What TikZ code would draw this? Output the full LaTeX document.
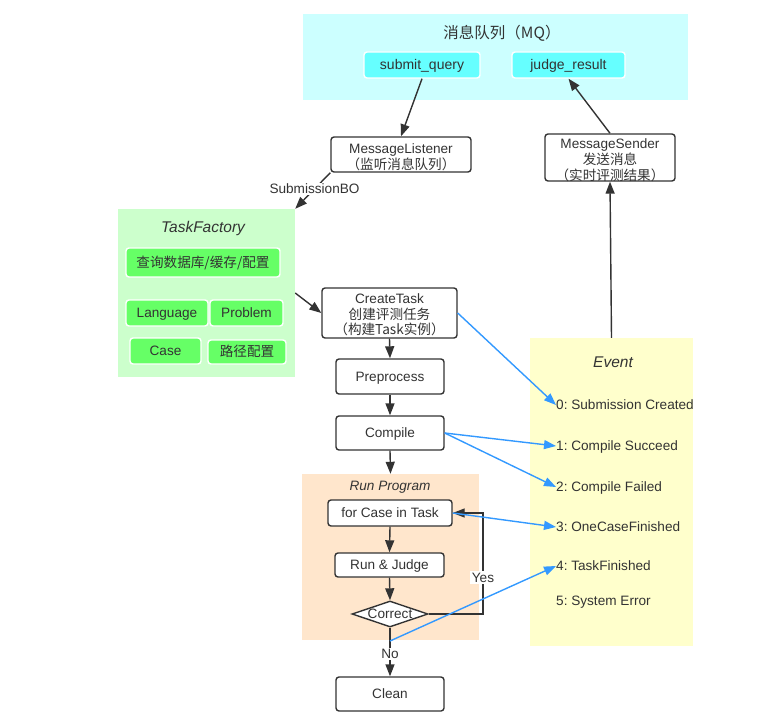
\documentclass[tikz,border=0pt]{standalone}
\usepackage{fontspec}
\setmainfont{Liberation Sans}
\newfontfamily\cjk{Noto Sans CJK SC}
\usetikzlibrary{arrows.meta,shapes.geometric}
\definecolor{txt}{HTML}{333333}
\definecolor{mqbg}{HTML}{CCFFFF}
\definecolor{mqbox}{HTML}{66FFFF}
\definecolor{tfbg}{HTML}{CCFFCC}
\definecolor{tfbox}{HTML}{66FF66}
\definecolor{rpbg}{HTML}{FFE6CC}
\definecolor{evbg}{HTML}{FFFFCC}
\definecolor{blu}{HTML}{3399FF}
\frenchspacing
\newcommand{\topstrut}{\rule{0pt}{14pt}}
\tikzset{
  area/.style={inner sep=0pt, draw=none},
  box/.style={draw=txt, line width=1.4pt, rounded corners=3pt, fill=white, text=txt, inner sep=0pt,
     text height=9.6pt, text depth=0pt, font=\fontsize{13.6}{16}\selectfont},
  boxm/.style={draw=txt, line width=1.4pt, rounded corners=3pt, fill=white, text=txt, align=center, inner sep=0pt,
     text depth=0pt, font=\fontsize{13.6}{15.8}\selectfont},
  mqb/.style={draw=white, line width=1.4pt, rounded corners=3pt, fill=mqbox, text=txt, inner sep=0pt,
     text height=9.6pt, text depth=0pt, font=\fontsize{14}{16}\selectfont},
  tfb/.style={draw=white, line width=1.4pt, rounded corners=3pt, fill=tfbox, text=txt, inner sep=0pt,
     text height=9.6pt, text depth=0pt, font=\fontsize{13.6}{16}\selectfont},
  ttl/.style={text=txt, font=\fontsize{15.5}{18}\selectfont\itshape},
  evt/.style={text=txt, anchor=west, inner sep=0pt, text height=9.6pt, text depth=0pt, font=\fontsize{13.6}{16}\selectfont},
  lbl/.style={text=txt, fill=white, inner sep=1.5pt, text height=9.6pt, text depth=0pt, font=\fontsize{13.6}{16}\selectfont},
  arr/.style={draw=txt, line width=1.4pt, -{Triangle[length=12pt,width=9pt]}},
  barr/.style={draw=blu, line width=1.4pt, -{Triangle[length=12pt,width=9pt]}},
}
\begin{document}
\begin{tikzpicture}[x=1pt,y=-1pt]
\useasboundingbox (0,0) rectangle (760,719);
% areas
\node[area, fill=mqbg, minimum width=385pt, minimum height=86pt] (mq) at (495.5,57) {};
\node[area, fill=tfbg, minimum width=177pt, minimum height=168pt] (tf) at (206.5,293) {};
\node[area, fill=rpbg, minimum width=177pt, minimum height=166pt] (rp) at (390.5,557) {};
\node[area, fill=evbg, minimum width=163pt, minimum height=308pt] (ev) at (611.5,492) {};
% titles
\node[text=txt, font=\cjk\fontsize{15.5}{18}\selectfont] (mqt) at (502,33) {消息队列（MQ）};
\node[ttl] (tft) at (203,228) {TaskFactory};
\node[ttl, font=\fontsize{13.6}{16}\selectfont\itshape] (rpt) at (390,487) {Run Program};
\node[ttl] (evt) at (613,362) {Event};
% MQ boxes
\node[mqb, minimum width=116pt, minimum height=26pt] (sq) at (422,65) {submit\_query};
\node[mqb, minimum width=113pt, minimum height=26pt] (jr) at (568.5,65) {judge\_result};
% listener / sender
\node[boxm, minimum width=140pt, minimum height=35pt] (ml) at (401,154.5) {\topstrut MessageListener\\{\cjk （监听消息队列）}};
\node[boxm, minimum width=130pt, minimum height=47pt] (ms) at (610,157.5) {\topstrut MessageSender\\{\cjk 发送消息}\\{\cjk （实时评测结果）}};
% task factory boxes
\node[tfb, minimum width=154pt, minimum height=29pt, font=\cjk\fontsize{13.6}{16}\selectfont] (q) at (203,262.5) {查询数据库/缓存/配置};
\node[tfb, minimum width=82pt, minimum height=26pt] (lang) at (167,313) {Language};
\node[tfb, minimum width=73pt, minimum height=26pt] (prob) at (246.5,313) {Problem};
\node[tfb, minimum width=71pt, minimum height=26pt] (case) at (165.5,351) {Case};
\node[tfb, minimum width=78pt, minimum height=24pt, font=\cjk\fontsize{13.6}{16}\selectfont] (path) at (247,352) {路径配置};
% main flow
\node[boxm, minimum width=135pt, minimum height=50pt] (ct) at (389.5,313) {\rule{0pt}{12pt}CreateTask\\{\cjk 创建评测任务}\\{\cjk （构建Task实例）}};
\node[box, minimum width=108pt, minimum height=35pt] (pre) at (390,376.5) {Preprocess};
\node[box, minimum width=108pt, minimum height=34pt] (comp) at (390,433) {Compile};
\node[box, minimum width=124pt, minimum height=26pt] (fc) at (390,513) {for Case in Task};
\node[box, minimum width=109pt, minimum height=24pt] (rj) at (389.5,565) {Run \& Judge};
\node[diamond, draw=txt, line width=1.4pt, fill=white, minimum width=76pt, minimum height=26pt, inner sep=0pt,
      label={[text=txt, inner sep=0pt, text height=9.6pt, text depth=0pt, font=\fontsize{13.6}{16}\selectfont]center:Correct}] (cor) at (390,614) {};
\node[box, minimum width=108pt, minimum height=34pt] (cl) at (390,694) {Clean};
% events
\node[evt] (e0) at (556,405) {0: Submission Created};
\node[evt] (e1) at (556,446) {1: Compile Succeed};
\node[evt] (e2) at (556,487) {2: Compile Failed};
\node[evt] (e3) at (556,527) {3: OneCaseFinished};
\node[evt] (e4) at (556,566) {4: TaskFinished};
\node[evt] (e5) at (556,601) {5: System Error};
% black connectors
\draw[arr] (sq.south) -- (ml.north);
\draw[arr] (ms.north) -- (jr.south);
\draw[arr] (ev.north) -- (ms.south);
\draw[arr] (ml.south west) -- node[lbl, pos=0.45] {SubmissionBO} (tf.north east);
\draw[arr] (tf.east) -- (ct.west);
\draw[arr] (ct.south) -- (pre.north);
\draw[arr] (pre.south) -- (comp.north);
\draw[arr] (comp.south) -- (rp.north);
\draw[arr] (fc.south) -- (rj.north);
\draw[arr] (rj.south) -- (cor.north);
\coordinate (nob) at (390,641);
\draw[arr] (cor.south) -- node[lbl, pos=0.54] {No} (cl.north);
\draw[arr] (cor.east) -- (483,614) -- node[lbl, pos=0.36] {Yes} (483,513) -- (fc.east);
% blue connectors
\draw[barr] (ct.east) -- (e0.west);
\draw[barr] (comp.east) -- (e1.west);
\draw[barr] (comp.east) -- (e2.west);
\draw[barr] (fc.east) -- (e3.west);
\draw[barr] (nob) -- (e4.west);
\end{tikzpicture}
\end{document}
